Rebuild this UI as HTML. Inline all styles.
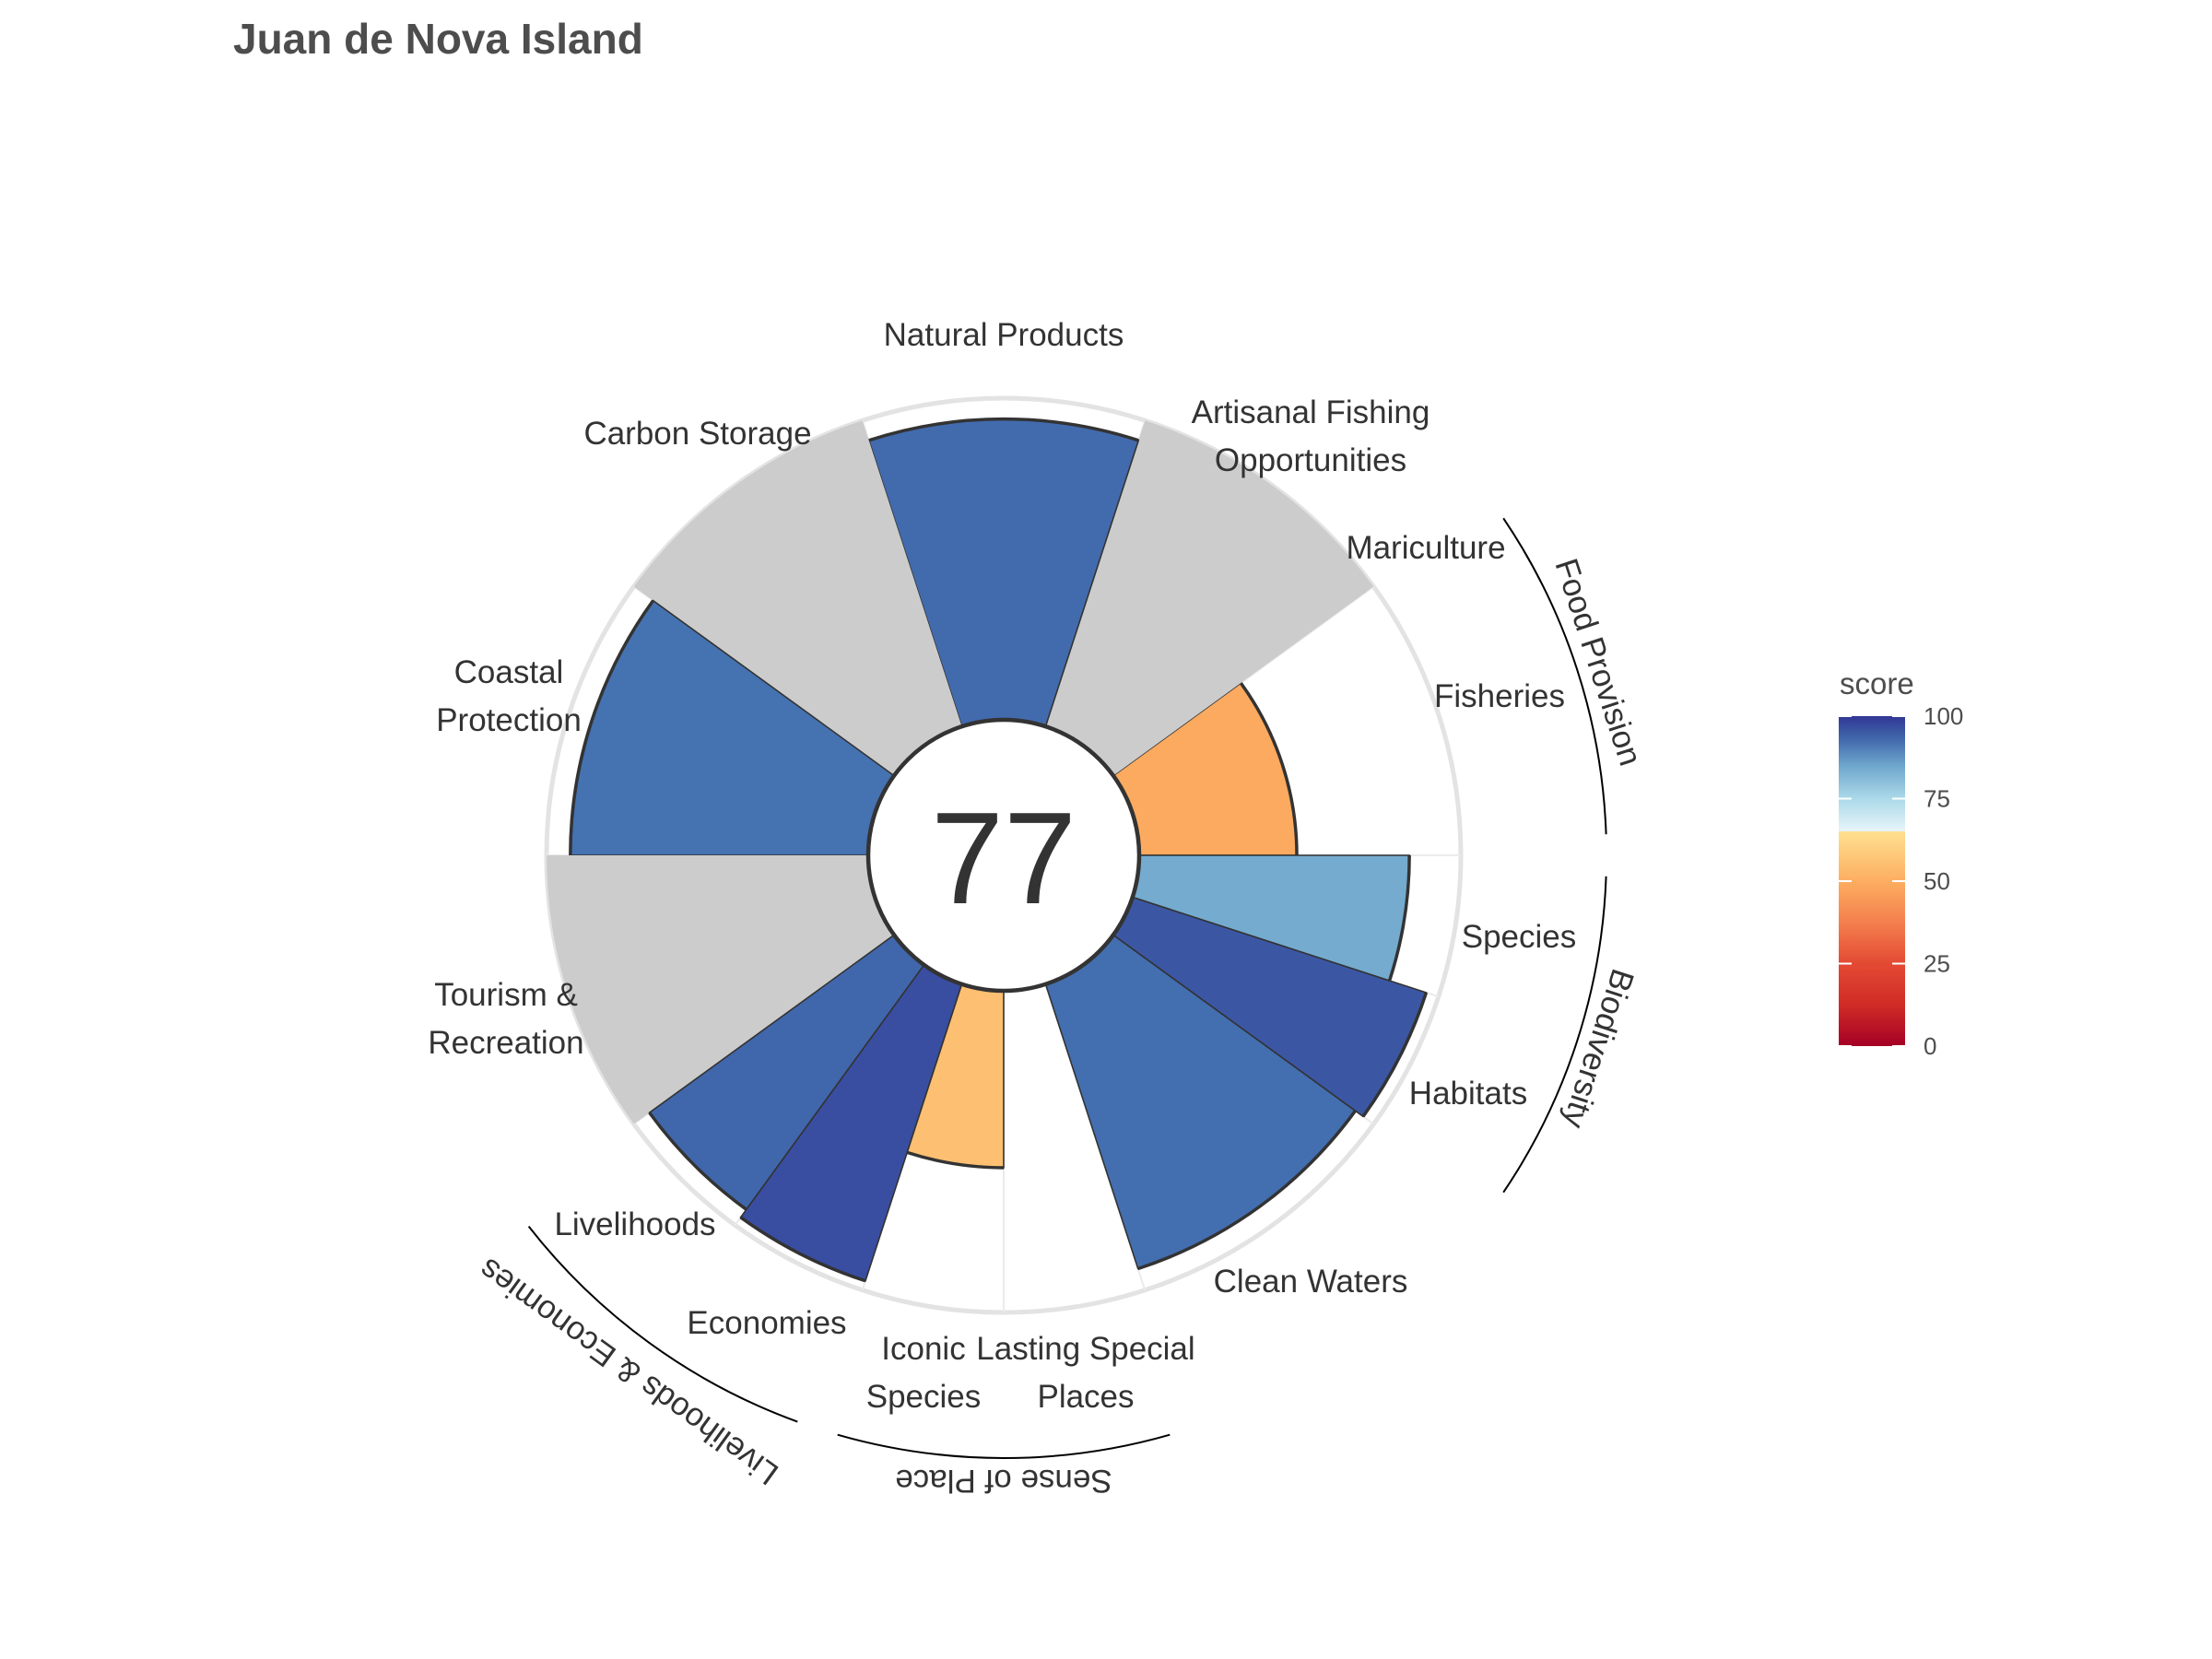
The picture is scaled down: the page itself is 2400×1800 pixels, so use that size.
<!DOCTYPE html>
<html><head><meta charset="utf-8"><style>
html,body{margin:0;padding:0;background:#fff}
svg{display:block;font-family:"Liberation Sans",sans-serif}
</style></head><body>
<svg id="chart" width="2400" height="1800" viewBox="0 0 2400 1800">
<defs>
<linearGradient id="cbgrad" x1="0" y1="1" x2="0" y2="0">
<stop offset="0" stop-color="#a50026"/><stop offset="0.125" stop-color="#d02c26"/>
<stop offset="0.25" stop-color="#e34a33"/><stop offset="0.375" stop-color="#f47f4e"/>
<stop offset="0.5" stop-color="#fdae61"/><stop offset="0.65" stop-color="#fee090"/>
<stop offset="0.651" stop-color="#e8f5f9"/><stop offset="0.75" stop-color="#abd9e9"/>
<stop offset="0.85" stop-color="#6ea6cc"/><stop offset="0.93" stop-color="#4169ab"/>
<stop offset="1" stop-color="#313695"/>
</linearGradient>
</defs>
<text x="253" y="58" font-size="46" font-weight="bold" fill="#4d4d4d">Juan de Nova Island</text>
<g id="grid"></g><g id="bars"></g><g id="groups"></g><g id="labels"></g>
<circle cx="1089" cy="928" r="147" fill="#fff" stroke="#333" stroke-width="4.5"/>
<text x="1089" y="980" font-size="142" fill="#333" text-anchor="middle">77</text>
<g>
<text x="1996" y="753" font-size="33" fill="#4d4d4d">score</text>
<rect x="1995" y="777" width="72" height="358" fill="url(#cbgrad)"/>
<g id="cbticks"></g>
</g>
</svg>
<script>
const goals = ["Fisheries","Mariculture","Artisanal Fishing Opportunities","Natural Products","Carbon Storage","Coastal Protection","Tourism & Recreation","Livelihoods","Economies","Iconic Species","Lasting Special Places","Clean Waters","Habitats","Species"];
const scores = [49, null, null, 93.5, null, 92.6, null, 94, 97, 55, 0, 93, 96, 84];
const weights = [36, 0, 36, 36, 36, 36, 36, 18, 18, 18, 18, 36, 18, 18];
const labelLines = [["Fisheries"],["Mariculture"],["Artisanal Fishing","Opportunities"],["Natural Products"],["Carbon Storage"],["Coastal","Protection"],["Tourism &","Recreation"],["Livelihoods"],["Economies"],["Iconic","Species"],["Lasting Special","Places"],["Clean Waters"],["Habitats"],["Species"]];
const groupNames = ["Food Provision","Biodiversity","Sense of Place","Livelihoods & Economies"];
const groupMembers = [[0,1],[12,13],[9,10],[7,8]];
const legendTicks = [0,25,50,75,100];

const NS="http://www.w3.org/2000/svg";
const cx=1089, cy=928, r0=147, R=496;
// label anchor positions (first-line centre), layout only
const labelPos=[[1627,755],[1547,594],[1422,447],[1089,363],[757,470],[552,729],[549,1079],[689,1328],[832,1435],[1002,1463],[1178,1463],[1422,1390],[1593,1186],[1648,1016]];
function el(t,a,p){const e=document.createElementNS(NS,t);for(const k in a)e.setAttribute(k,a[k]);p.appendChild(e);return e;}
function pt(r,deg){const t=deg*Math.PI/180;return [cx+r*Math.cos(t), cy-r*Math.sin(t)];}
function rad(s){return r0+(R-r0)*s/100;}
const cstops=[[0,[165,0,38]],[12.5,[208,44,38]],[25,[227,74,51]],[37.5,[244,127,78]],[50,[253,174,97]],[65,[254,224,144]],[65.01,[232,245,249]],[75,[171,217,233]],[85,[110,166,204]],[93,[67,111,176]],[100,[49,54,149]]];
function color(s){for(let i=1;i<cstops.length;i++){if(s<=cstops[i][0]){const a=cstops[i-1],b=cstops[i];const f=(s-a[0])/(b[0]-a[0]);const c=a[1].map((v,j)=>Math.round(v+(b[1][j]-v)*f));return `rgb(${c.join(',')})`;}}return "rgb(49,54,149)";}
function sector(r,a0,a1){const p0=pt(r0,a0),p1=pt(r,a0),p2=pt(r,a1),p3=pt(r0,a1);
return `M${p0[0]},${p0[1]}L${p1[0]},${p1[1]}A${r},${r} 0 0 0 ${p2[0]},${p2[1]}L${p3[0]},${p3[1]}Z`;}

const grid=document.getElementById('grid'),bars=document.getElementById('bars'),groups=document.getElementById('groups'),labels=document.getElementById('labels');
const bg=el('circle',{cx:cx,cy:cy,r:R,fill:'#fff',stroke:'#e3e3e3','stroke-width':5},grid);



const starts=[];let acc=0;
for(let i=0;i<goals.length;i++){starts.push(acc);acc+=weights[i];}
for(let i=0;i<goals.length;i++){
  const a=starts[i];const p0=pt(r0,a),p1=pt(R,a);
  const gl=el('line',{x1:p0[0],y1:p0[1],x2:p1[0],y2:p1[1],stroke:'#ebebeb','stroke-width':2},grid);
  
  
}
for(let i=0;i<goals.length;i++){
  if(weights[i]===0)continue;
  const a0=starts[i],a1=starts[i]+weights[i];
  const s=scores[i];
  let p;
  if(s===null){p=el('path',{d:sector(R,a0,a1),fill:'#cccccc',stroke:'none'},bars);}
  else{
    if(s<=0)continue;
    const r=rad(s);
    p=el('path',{d:sector(r,a0,a1),fill:color(s),stroke:'#333','stroke-width':1.6},bars);
    const q1=pt(r,a0),q2=pt(r,a1);
    const arc=el('path',{d:`M${q1[0]},${q1[1]}A${r},${r} 0 0 0 ${q2[0]},${q2[1]}`,fill:'none',stroke:'#333','stroke-width':3.5},bars);
    
    
  }
  
  
}
for(let i=0;i<goals.length;i++){
  const c=labelPos[i];
  const lines=labelLines[i];
  const t=el('text',{x:c[0],'font-size':35,fill:'#333','text-anchor':'middle'},labels);
  
  
  lines.forEach((ln,j)=>{const ts=el('tspan',{x:c[0],y:c[1]+12+j*52},t);ts.textContent=ln;});
}
for(let g=0;g<groupNames.length;g++){
  const m=groupMembers[g];
  let a0=Math.min(...m.map(i=>starts[i])),a1=Math.max(...m.map(i=>starts[i]+weights[i]));
  if(g===1){a0=324;a1=360;}
  const b0=a0+2,b1=a1-2,ra=654;
  const q1=pt(ra,b0),q2=pt(ra,b1);
  const arc=el('path',{d:`M${q1[0]},${q1[1]}A${ra},${ra} 0 0 0 ${q2[0]},${q2[1]}`,fill:'none',stroke:'#000','stroke-width':2},groups);
  
  
  const mid=(a0+a1)/2;const rt=(g===3)?690:676;const c=pt(rt,mid);
  const rot=90-mid;
  const t=el('text',{x:c[0],y:c[1],'font-size':35,fill:'#333','text-anchor':'middle','dominant-baseline':'middle',transform:`rotate(${rot} ${c[0]} ${c[1]})`},groups);
  t.textContent=groupNames[g];
  
  
}
const cb=document.getElementById('cbticks');
legendTicks.forEach(v=>{
  const y=1135-358*v/100;
  const l1=el('line',{x1:1995,x2:2009,y1:y,y2:y,stroke:'#fff','stroke-width':2},cb);
  
  
  const l2=el('line',{x1:2053,x2:2067,y1:y,y2:y,stroke:'#fff','stroke-width':2},cb);
  
  
  const t=el('text',{x:2087,y:y+9,'font-size':26,fill:'#4d4d4d'},cb);
  t.textContent=v;
  
  
});
</script>
</body></html>
